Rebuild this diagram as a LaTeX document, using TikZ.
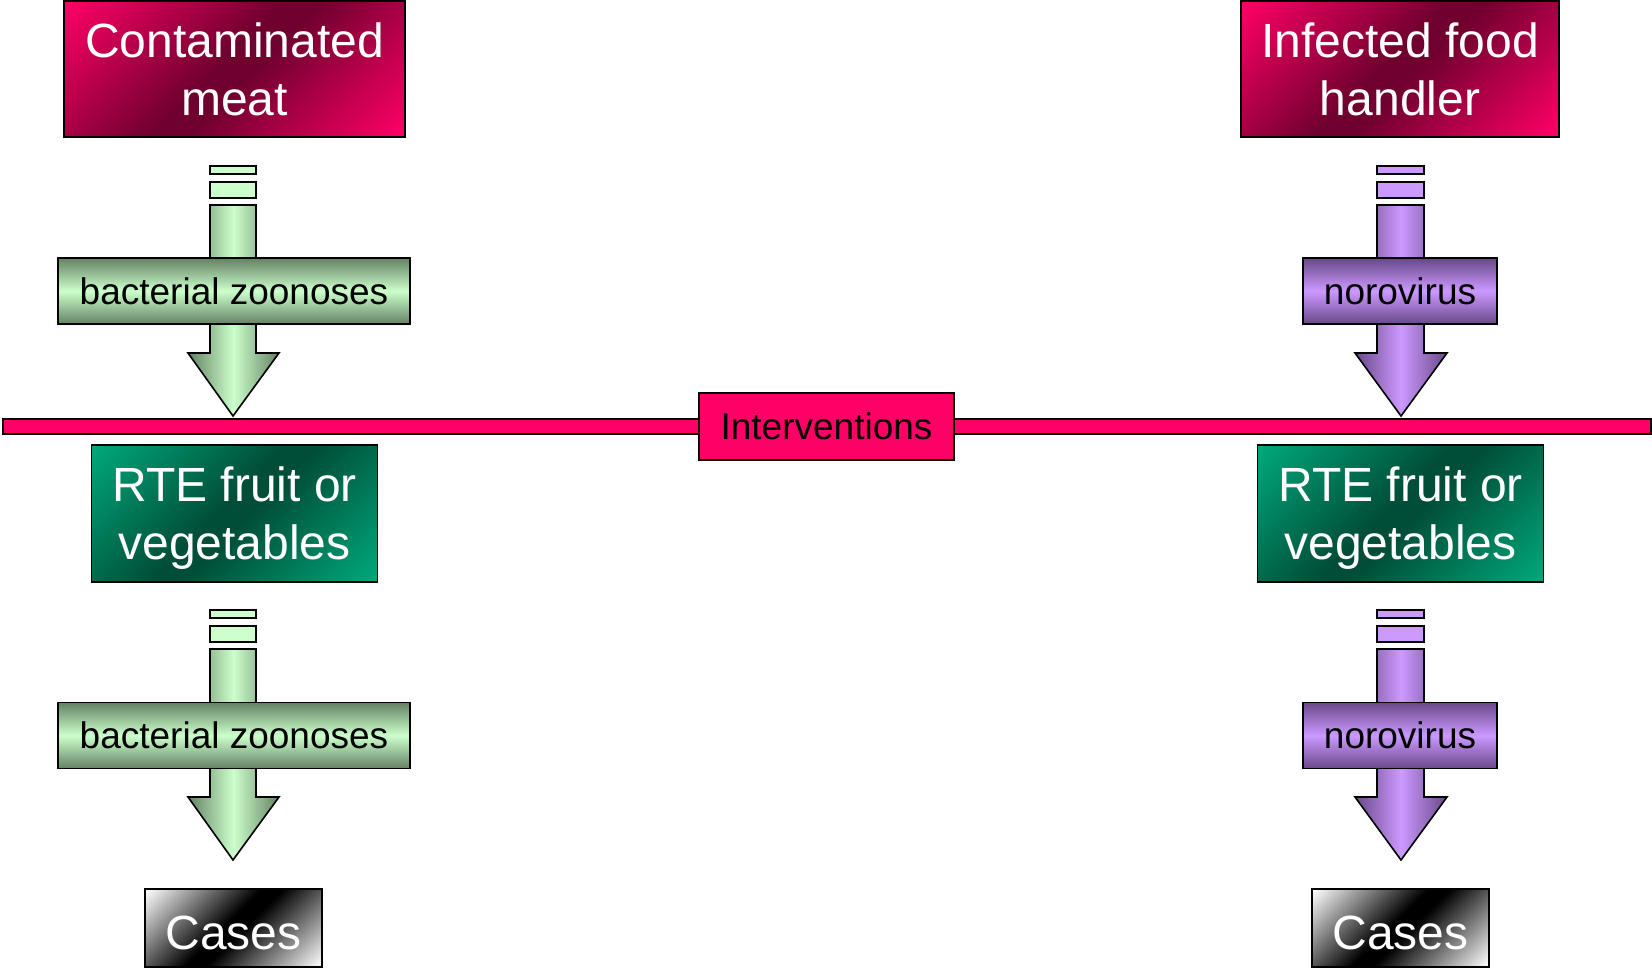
\documentclass[tikz,border=0pt]{standalone}
\usepackage{fontspec}
\setmainfont{Liberation Sans}
\usepackage{tikz}

\definecolor{pinkbright}{RGB}{255,0,102}
\definecolor{pinkdark}{RGB}{112,0,46}
\definecolor{greenbright}{RGB}{0,168,122}
\definecolor{greendark}{RGB}{0,78,56}
\definecolor{mintlight}{RGB}{204,255,204}
\definecolor{mintdark}{RGB}{100,130,100}
\definecolor{lilaclight}{RGB}{204,153,255}
\definecolor{lilacdark}{RGB}{104,72,136}

\pgfdeclareverticalshading{pinkdiag}{100bp}{color(0bp)=(pinkbright); color(15bp)=(pinkbright);
	color(47bp)=(pinkdark); color(53bp)=(pinkdark); color(85bp)=(pinkbright); color(100bp)=(pinkbright)}
\pgfdeclareverticalshading{greendiag}{100bp}{color(0bp)=(greenbright); color(15bp)=(greenbright);
	color(47bp)=(greendark); color(53bp)=(greendark); color(85bp)=(greenbright); color(100bp)=(greenbright)}
\pgfdeclareverticalshading{greydiag}{100bp}{color(0bp)=(white); color(15bp)=(white);
	color(47bp)=(black); color(53bp)=(black); color(85bp)=(white); color(100bp)=(white)}

\begin{document}
\begin{tikzpicture}[x=0.5pt,y=-0.5pt,
	bigbox/.style={draw=black,line width=0.8pt,text=white,align=center,inner sep=0pt,
		font=\fontsize{24}{29}\selectfont},
	source/.style={bigbox,shading=pinkdiag,shading angle=45},
	food/.style={bigbox,shading=greendiag,shading angle=45,text height=51.1pt},
	outcome/.style={bigbox,shading=greydiag,shading angle=45,text height=21.8pt},
	agent/.style={draw=black,line width=0.8pt,inner sep=0pt,minimum height=33pt,
		font=\fontsize{18.5}{22}\selectfont},
	bactlabel/.style={agent,top color=mintdark,bottom color=mintdark,middle color=mintlight,minimum width=176pt},
	norolabel/.style={agent,top color=lilacdark,bottom color=lilacdark,middle color=lilaclight,minimum width=97pt},
	bactarrow/.style={draw=black,line width=0.8pt,left color=mintdark,right color=mintdark,middle color=mintlight},
	noroarrow/.style={draw=black,line width=0.8pt,left color=lilacdark,right color=lilacdark,middle color=lilaclight},
	bactbar/.style={draw=black,line width=0.8pt,fill=mintlight},
	norobar/.style={draw=black,line width=0.8pt,fill=lilaclight}]
	\useasboundingbox (0,0) rectangle (1652,970);

	\node[source,minimum width=170.5pt,minimum height=68pt] (meat) at (234.5,69) {Contaminated\\meat};
	\node[source,minimum width=159pt,minimum height=68pt] (handler) at (1400,69) {Infected food\\handler};

	% upper arrows
	\draw[bactbar] (210,166) rectangle (256,174);
	\draw[bactbar] (210,182) rectangle (256,198);
	\draw[bactarrow] (210,205) -- (256,205) -- (256,353) -- (279,353) -- (233,416) -- (188,353) -- (210,353) -- cycle;
	\draw[norobar] (1377,166) rectangle (1424,174);
	\draw[norobar] (1377,182) rectangle (1424,198);
	\draw[noroarrow] (1377,205) -- (1424,205) -- (1424,353) -- (1447,353) -- (1401,416) -- (1355,353) -- (1377,353) -- cycle;
	\node[bactlabel] (bact1) at (234,291) {bacterial zoonoses};
	\node[norolabel] (noro1) at (1400,291) {norovirus};

	\draw[line width=0.8pt,fill=pinkbright] (3,419) rectangle (1651,434);
	\node[agent,fill=pinkbright,minimum width=127.5pt,minimum height=33.5pt] (interv) at (826.5,426.5) {Interventions};

	\node[food,minimum width=143pt,minimum height=68.5pt] (rte1) at (234.5,513.5) {RTE fruit or\\vegetables};
	\node[food,minimum width=143pt,minimum height=68.5pt] (rte2) at (1400.5,513.5) {RTE fruit or\\vegetables};

	% lower arrows
	\draw[bactbar] (210,610) rectangle (256,618);
	\draw[bactbar] (210,626) rectangle (256,642);
	\draw[bactarrow] (210,649) -- (256,649) -- (256,797) -- (279,797) -- (233,860) -- (188,797) -- (210,797) -- cycle;
	\draw[norobar] (1377,610) rectangle (1424,618);
	\draw[norobar] (1377,626) rectangle (1424,642);
	\draw[noroarrow] (1377,649) -- (1424,649) -- (1424,797) -- (1447,797) -- (1401,860) -- (1355,797) -- (1377,797) -- cycle;
	\node[bactlabel] (bact2) at (234,735.5) {bacterial zoonoses};
	\node[norolabel] (noro2) at (1400,735.5) {norovirus};

	\node[outcome,minimum width=88.5pt,minimum height=39pt] (cases1) at (233.5,928) {Cases};
	\node[outcome,minimum width=88.5pt,minimum height=39pt] (cases2) at (1400.5,928) {Cases};
\end{tikzpicture}
\end{document}
